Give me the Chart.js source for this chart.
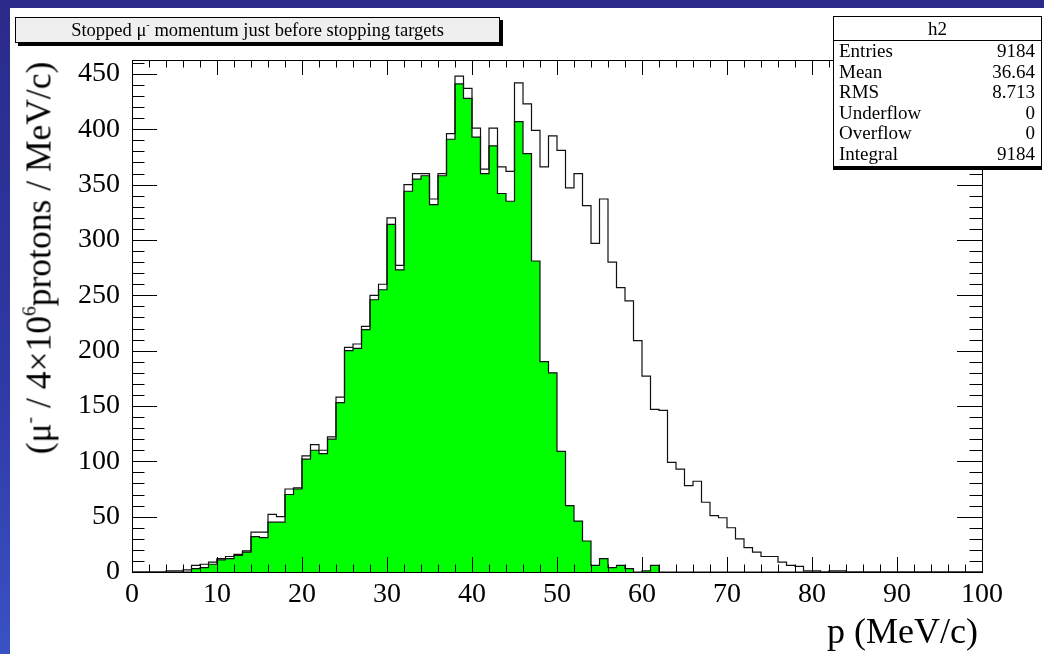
<!DOCTYPE html>
<html>
<head>
<meta charset="utf-8">
<script src="https://cdn.jsdelivr.net/npm/chart.js@4.4.1/dist/chart.umd.min.js"></script>
<style>
  html, body { margin: 0; padding: 0; width: 1044px; height: 654px; overflow: hidden; }
  body {
    position: relative;
    background: linear-gradient(180deg, #2a2a8a 0%, #2f3aa6 60%, #3a52c4 100%);
    font-family: "Liberation Serif", "DejaVu Serif", serif;
    color: #000;
  }
  #sheet { position: absolute; left: 10px; top: 8px; right: 0; bottom: 0; background: #fff; }
  #plot { position: absolute; left: 0; top: 0; }
  sup { font-size: 0.55em; vertical-align: 0.75em; line-height: 0; }

  .pave {
    position: absolute; left: 15px; top: 17px; width: 483px; height: 24px;
    background: #efefef; border: 1px solid #000; box-shadow: 3px 3px 0 #000;
    font-size: 18.5px; line-height: 24px; text-align: center; white-space: nowrap;
  }
  .stats {
    position: absolute; left: 833px; top: 16px; width: 207px; height: 149px;
    background: #fff; border: 1px solid #000; box-shadow: 0 3px 0 #000;
    font-size: 19px;
  }
  .stats .head { height: 23px; line-height: 23px; text-align: center; border-bottom: 1px solid #000; }
  .stats .row { display: flex; justify-content: space-between; height: 20.5px; line-height: 20.5px; padding: 0 6px 0 5px; }

  .ytitle {
    position: absolute; left: 39px; top: 258px; white-space: nowrap;
    font-size: 35.5px; line-height: 35px;
    transform: translate(-50%, -50%) rotate(-90deg);
  }
  .xtitle { position: absolute; right: 66px; top: 613px; font-size: 36px; line-height: 36px; white-space: nowrap; }
</style>
</head>
<body>
<div id="sheet"></div>
<canvas id="plot" width="1044" height="654"></canvas>

<div class="pave">Stopped &mu;<sup>-</sup> momentum just before stopping targets</div>

<div class="stats">
  <div class="head">h2</div>
  <div class="row"><span>Entries</span><span>9184</span></div>
  <div class="row"><span>Mean</span><span>36.64</span></div>
  <div class="row"><span>RMS</span><span>8.713</span></div>
  <div class="row"><span>Underflow</span><span>0</span></div>
  <div class="row"><span>Overflow</span><span>0</span></div>
  <div class="row"><span>Integral</span><span>9184</span></div>
</div>

<div class="ytitle">(&mu;<sup>-</sup> / 4&times;10<sup>6</sup>protons / MeV/c)</div>
<div class="xtitle">p (MeV/c)</div>

<script>
// 1 MeV/c bins from 0 to 100
const binStart = 0;
const binWidth = 1;

// all muons reaching the targets (open histogram)
const allMuons = [
  0, 0, 0, 0, 1, 1, 2, 6, 7, 9,
  12, 14, 16, 19, 36, 36, 52, 50, 75, 76,
  105, 115, 110, 122, 158, 203, 206, 222, 250, 260,
  320, 277, 350, 360, 360, 337, 360, 396, 448, 437,
  401, 364, 401, 366, 362, 442, 423, 399, 366, 394,
  381, 347, 360, 331, 297, 337, 280, 257, 245, 209,
  177, 147, 146, 99, 93, 78, 82, 63, 51, 49,
  40, 30, 22, 18, 14, 14, 9, 6, 5, 1,
  1, 0, 1, 1, 0, 0, 0, 0, 0, 0,
  0, 0, 0, 0, 0, 0, 0, 0, 0, 0
];

// muons that stop (filled histogram, h2)
const stoppedMuons = [
  0, 0, 0, 0, 0, 0, 0, 3, 4, 7,
  11, 12, 15, 18, 32, 31, 45, 45, 70, 75,
  102, 110, 107, 120, 153, 200, 202, 219, 246, 255,
  314, 273, 344, 355, 358, 332, 358, 391, 441, 428,
  393, 360, 385, 342, 335, 407, 378, 281, 190, 180,
  109, 60, 46, 28, 6, 12, 4, 6, 3, 0,
  1, 6, 0, 0, 0, 0, 0, 0, 0, 0,
  0, 0, 0, 0, 0, 0, 0, 0, 0, 0,
  0, 0, 0, 0, 0, 0, 0, 0, 0, 0,
  0, 0, 0, 0, 0, 0, 0, 0, 0, 0
];

const xTicks = [0, 10, 20, 30, 40, 50, 60, 70, 80, 90, 100];
const yTicks = [0, 50, 100, 150, 200, 250, 300, 350, 400, 450];

// step outline: one point per bin low edge, plus the closing edge
function toSteps(counts) {
  var pts = counts.map(function (c, i) { return { x: binStart + i * binWidth, y: c }; });
  pts.push({ x: binStart + counts.length * binWidth, y: 0 });
  return pts;
}

// ROOT style frame with inward ticks on all four sides
const rootFrame = {
  id: 'rootFrame',
  afterDatasetsDraw(chart) {
    const ctx = chart.ctx;
    const a = chart.chartArea;
    const x = chart.scales.x, y = chart.scales.y;
    ctx.save();
    ctx.strokeStyle = '#000';
    ctx.lineWidth = 1;
    ctx.beginPath();
    for (let v = x.min; v <= x.max; v += 2) {
      const px = Math.round(x.getPixelForValue(v)) + 0.5;
      const len = v % 10 === 0 ? 15 : 7.5;
      ctx.moveTo(px, a.bottom); ctx.lineTo(px, a.bottom - len);
      ctx.moveTo(px, a.top); ctx.lineTo(px, a.top + len);
    }
    for (let v = 0; v <= y.max; v += 10) {
      const py = Math.round(y.getPixelForValue(v)) + 0.5;
      const len = v % 50 === 0 ? 25 : 12.5;
      ctx.moveTo(a.left, py); ctx.lineTo(a.left + len, py);
      ctx.moveTo(a.right, py); ctx.lineTo(a.right - len, py);
    }
    ctx.stroke();
    ctx.strokeRect(Math.round(a.left) + 0.5, Math.round(a.top) + 0.5,
      Math.round(a.right - a.left), Math.round(a.bottom - a.top));
    ctx.restore();
  }
};

const tickFont = { family: '"Liberation Serif", serif', size: 28 };

new Chart(document.getElementById('plot'), {
  type: 'line',
  data: {
    datasets: [
      {
        label: 'all',
        data: toSteps(allMuons),
        stepped: 'before',
        borderColor: '#111',
        borderWidth: 1.2,
        fill: false,
        pointRadius: 0
      },
      {
        label: 'h2',
        data: toSteps(stoppedMuons),
        stepped: 'before',
        borderColor: '#111',
        borderWidth: 1.2,
        backgroundColor: '#00ff00',
        fill: 'origin',
        pointRadius: 0
      }
    ]
  },
  options: {
    responsive: false,
    animation: false,
    devicePixelRatio: 1,
    layout: { padding: { left: 10, top: 60, right: 62, bottom: 0 } },
    plugins: { legend: { display: false }, tooltip: { enabled: false } },
    scales: {
      x: {
        type: 'linear',
        min: 0,
        max: 100,
        grid: { display: false, drawTicks: false },
        border: { display: false },
        afterBuildTicks: function (s) { s.ticks = xTicks.map(function (v) { return { value: v }; }); },
        afterFit: function (s) { s.height = 82; },
        ticks: { color: '#000', font: tickFont, padding: 6, maxRotation: 0, autoSkip: false }
      },
      y: {
        type: 'linear',
        min: 0,
        max: 462.6,
        grid: { display: false, drawTicks: false },
        border: { display: false },
        afterBuildTicks: function (s) { s.ticks = yTicks.map(function (v) { return { value: v }; }); },
        afterFit: function (s) { s.width = 122; },
        ticks: { color: '#000', font: tickFont, padding: 12, autoSkip: false }
      }
    }
  },
  plugins: [rootFrame]
});
</script>
</body>
</html>
